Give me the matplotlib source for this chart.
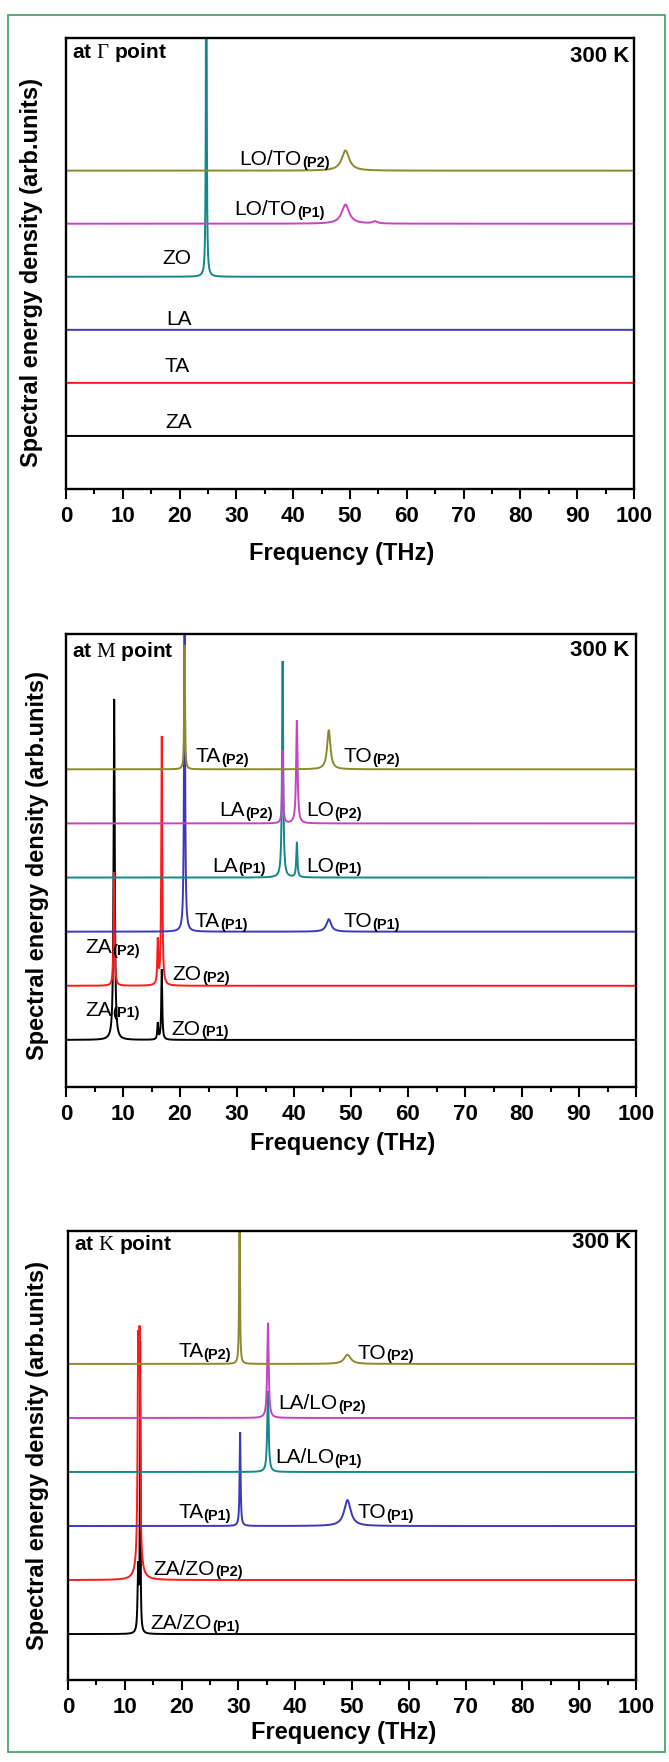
import numpy as np
import matplotlib.pyplot as plt
from matplotlib.patches import Rectangle

plt.rcParams["font.family"] = ["Liberation Sans", "DejaVu Sans"]
plt.rcParams["mathtext.fontset"] = "custom"
plt.rcParams["mathtext.rm"] = "Liberation Serif"
plt.rcParams["mathtext.bf"] = "Liberation Sans:bold"

# curve colours, bottom -> top
colors = ["#000000", "#ff1a1a", "#3a3ab8", "#14878a", "#c743c4", "#8c8a2c"]

# peaks for each curve: (centre THz, height, half width), curves bottom -> top
gamma_peaks = [
    [],
    [],
    [],
    [(24.7, 9.0, 0.07)],
    [(49.2, 0.36, 0.8), (54.4, 0.04, 0.5)],
    [(49.2, 0.38, 0.8)],
]
m_peaks = [
    [(8.45, 6.3, 0.12), (16.1, 0.3, 0.1), (16.8, 1.3, 0.1)],
    [(8.45, 2.1, 0.1), (16.1, 0.8, 0.1), (16.8, 4.6, 0.1)],
    [(20.8, 6.5, 0.1), (46.1, 0.23, 0.5)],
    [(38.0, 4.0, 0.12), (40.5, 0.65, 0.12)],
    [(38.0, 1.35, 0.1), (40.5, 1.9, 0.15)],
    [(20.8, 2.3, 0.08), (46.1, 0.72, 0.35)],
]
k_peaks = [
    [(12.35, 1.2, 0.12), (12.7, 5.3, 0.06)],
    [(12.35, 3.7, 0.12), (12.6, 3.8, 0.12), (12.5, 0.2, 0.7)],
    [(30.3, 1.74, 0.1), (49.2, 0.48, 0.7)],
    [(35.2, 1.5, 0.15)],
    [(35.2, 1.76, 0.15)],
    [(30.2, 3.0, 0.08), (49.2, 0.17, 0.7)],
]

# labels: (text, phase tag, x THz, curve index, height above baseline)
gamma_labels = [
    ("ZA", "", 17.5, 0, 0.15),
    ("TA", "", 17.3, 1, 0.2),
    ("LA", "", 17.7, 2, 0.09),
    ("ZO", "", 16.9, 3, 0.25),
    ("LO/TO", "(P1)", 29.7, 4, 0.17),
    ("LO/TO", "(P2)", 30.5, 5, 0.1),
]
m_labels = [
    ("ZA", "(P1)", 3.4, 0, 0.45),
    ("ZO", "(P1)", 18.5, 0, 0.1),
    ("ZA", "(P2)", 3.4, 1, 0.6),
    ("ZO", "(P2)", 18.7, 1, 0.1),
    ("TA", "(P1)", 22.6, 2, 0.08),
    ("TO", "(P1)", 48.6, 2, 0.08),
    ("LA", "(P1)", 25.6, 3, 0.11),
    ("LO", "(P1)", 42.1, 3, 0.11),
    ("LA", "(P2)", 26.9, 4, 0.13),
    ("LO", "(P2)", 42.1, 4, 0.13),
    ("TA", "(P2)", 22.8, 5, 0.13),
    ("TO", "(P2)", 48.6, 5, 0.13),
]
k_labels = [
    ("ZA/ZO", "(P1)", 14.5, 0, 0.1),
    ("ZA/ZO", "(P2)", 15.1, 1, 0.1),
    ("TA", "(P1)", 19.4, 2, 0.15),
    ("TO", "(P1)", 50.9, 2, 0.15),
    ("LA/LO", "(P1)", 36.4, 3, 0.17),
    ("LA/LO", "(P2)", 37.1, 4, 0.17),
    ("TA", "(P2)", 19.4, 5, 0.13),
    ("TO", "(P2)", 50.9, 5, 0.1),
]

point_names = ["at $\\mathrm{\\Gamma}$ point", "at $\\mathrm{M}$ point", "at $\\mathrm{K}$ point"]
temperature = "300 K"
xlabel = "Frequency (THz)"
ylabel = "Spectral energy density (arb.units)"

W, H = 669, 1762
freq = np.linspace(0, 100, 10001)

# axes boxes in pixels: left, top, right, bottom
boxes = [(66, 38, 634, 489), (66, 634, 636, 1087), (68, 1231, 636, 1680)]
ylims = [(-1.0, 7.5), (-0.87, 7.5), (-0.85, 7.46)]
name_pos = [(6, 14), (6, 18), (6, 13)]
temp_pos = [(5, 18), (7, 17), (5, 11)]
ylabel_x = [-0.040, -0.030, -0.033]
ylabel_y = [0.48, 0.49, 0.5]
xlabel_y = [-0.1175, -0.0993, -0.0913]

fig = plt.figure(figsize=(W / 100, H / 100), dpi=100)
fig.patches.append(Rectangle((8 / W, 1 - 1752 / H), 657 / W, (1752 - 14.5) / H,
                             transform=fig.transFigure, fill=False,
                             edgecolor="#3d9960", linewidth=1.2))

all_peaks = [gamma_peaks, m_peaks, k_peaks]
all_labels = [gamma_labels, m_labels, k_labels]

for p in range(3):
    l, t, r, b = boxes[p]
    ax = fig.add_axes([l / W, 1 - b / H, (r - l) / W, (b - t) / H])
    for i, (plist, col) in enumerate(zip(all_peaks[p], colors)):
        y = np.full_like(freq, float(i))
        for c, h, g in plist:
            y += h * g ** 2 / ((freq - c) ** 2 + g ** 2)
        ax.plot(freq, y, color=col, lw=1.4, solid_joinstyle="miter")
    for text, tag, x, i, dy in all_labels[p]:
        txt = ax.text(x, i + dy, text, fontsize=15, va="baseline", ha="left")
        if tag:
            ax.annotate(tag, xy=(1, 0), xycoords=txt, xytext=(0.3, -0.6),
                        textcoords="offset points", ha="left", va="bottom",
                        fontsize=10.5, fontweight="bold")
    ax.set_xlim(0, 100)
    ax.set_ylim(*ylims[p])
    ax.set_xticks(np.arange(0, 101, 10))
    ax.set_xticks(np.arange(5, 100, 10), minor=True)
    ax.set_yticks([])
    ax.tick_params(axis="x", which="major", direction="out", length=7.2, width=1.5, pad=5,
                   labelsize=16)
    ax.tick_params(axis="x", which="minor", direction="out", length=3.8, width=1.5)
    for lab in ax.get_xticklabels():
        lab.set_fontweight("bold")
    for s in ax.spines.values():
        s.set_linewidth(1.7)
    ax.set_xlabel(xlabel, fontsize=17, fontweight="bold")
    ax.xaxis.set_label_coords(0.485, xlabel_y[p])
    ax.set_ylabel(ylabel, fontsize=17, fontweight="bold")
    ax.yaxis.set_label_coords(ylabel_x[p], ylabel_y[p])
    nx, ny = name_pos[p]
    ax.annotate(point_names[p], xy=(0, 1), xycoords="axes fraction",
                xytext=(nx * 0.72, -ny * 0.72), textcoords="offset points",
                ha="left", va="center", fontsize=15, fontweight="bold")
    tx, ty = temp_pos[p]
    ax.annotate(temperature, xy=(1, 1), xycoords="axes fraction",
                xytext=(-tx * 0.72, -ty * 0.72), textcoords="offset points",
                ha="right", va="center", fontsize=16, fontweight="bold")

fig.savefig("out.png", dpi=100)
